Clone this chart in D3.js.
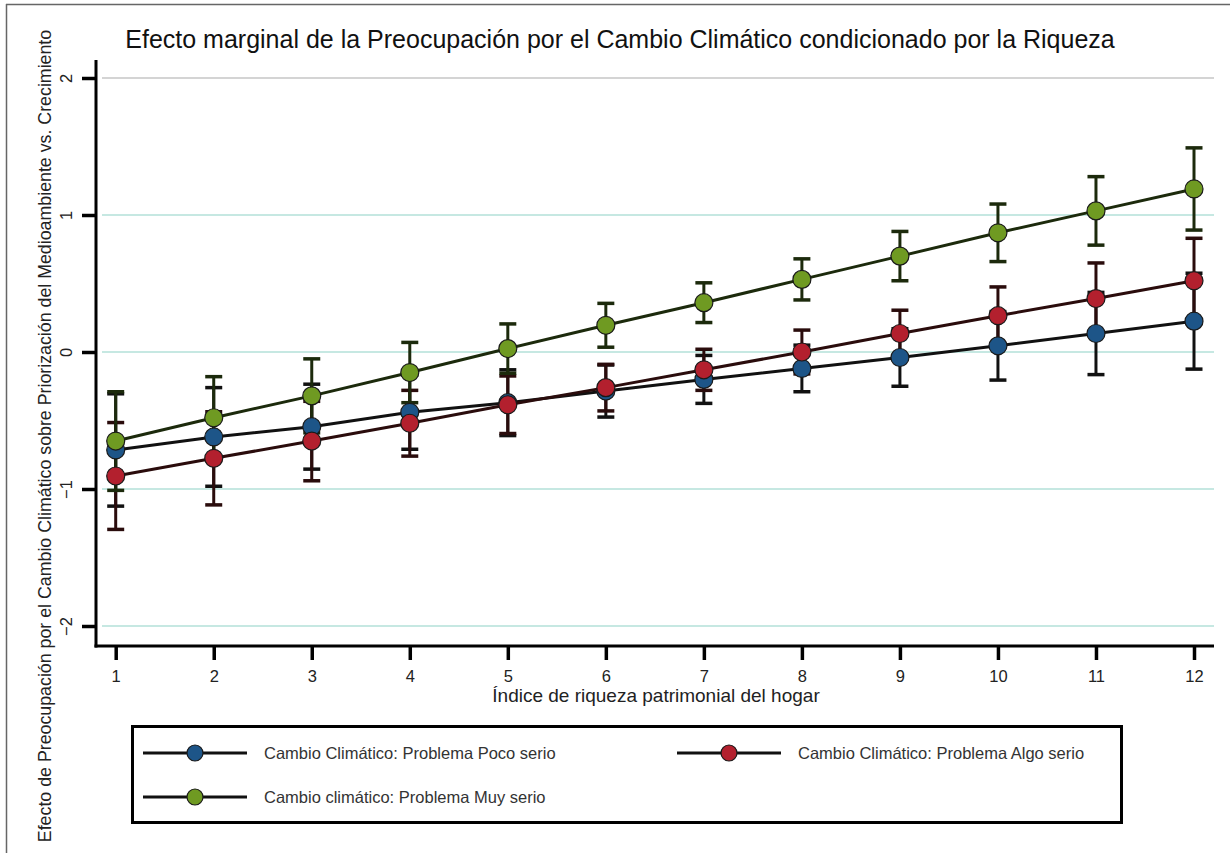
<!DOCTYPE html>
<html>
<head>
<meta charset="utf-8">
<script src="https://cdn.jsdelivr.net/npm/d3@7"></script>
<style>
  body { margin: 0; background: #fff; }
  text { font-family: "Liberation Sans", Arial, sans-serif; }
</style>
</head>
<body>
<div id="chart"></div>
<script>
var W = 1230, H = 853;

// data
var xValues = [1, 2, 3, 4, 5, 6, 7, 8, 9, 10, 11, 12];
var yTicks = [-2, -1, 0, 1, 2];
var seriesNames = [
  "Cambio Climático: Problema Poco serio",
  "Cambio Climático: Problema Algo serio",
  "Cambio climático: Problema Muy serio"
];
var pocoMargin = [-0.715, -0.62, -0.545, -0.44, -0.37, -0.285, -0.20, -0.12, -0.04, 0.045, 0.135, 0.225];
var pocoCI     = [0.41, 0.36, 0.31, 0.27, 0.24, 0.19, 0.175, 0.17, 0.21, 0.25, 0.30, 0.35];
var algoMargin = [-0.905, -0.776, -0.65, -0.52, -0.385, -0.26, -0.13, 0.0, 0.135, 0.265, 0.39, 0.52];
var algoCI     = [0.39, 0.34, 0.29, 0.24, 0.21, 0.17, 0.15, 0.16, 0.17, 0.21, 0.26, 0.31];
var muyMargin  = [-0.65, -0.48, -0.32, -0.15, 0.025, 0.195, 0.36, 0.53, 0.70, 0.87, 1.03, 1.19];
var muyCI      = [0.36, 0.30, 0.27, 0.22, 0.18, 0.16, 0.145, 0.15, 0.18, 0.21, 0.25, 0.30];

var colors = ["#1d5588", "#b3202e", "#6f9a22"];
var lineColors = ["#111", "#2a0c0c", "#1c2a0c"];

var series = [pocoMargin, algoMargin, muyMargin].map(function(vals, i) {
  var ci = [pocoCI, algoCI, muyCI][i];
  return {
    name: seriesNames[i],
    color: colors[i],
    line: lineColors[i],
    points: xValues.map(function(x, j) {
      return { x: x, y: vals[j], lo: vals[j] - ci[j], hi: vals[j] + ci[j] };
    })
  };
});

var svg = d3.select("#chart")
    .append("svg")
    .attr("width", W)
    .attr("height", H);

// outer frame (top and left edges only visible)
svg.append("line").attr("x1", 6).attr("x2", W).attr("y1", 4.5).attr("y2", 4.5)
    .attr("stroke", "#666").attr("stroke-width", 1.5);
svg.append("line").attr("x1", 6.5).attr("x2", 6.5).attr("y1", 4).attr("y2", H)
    .attr("stroke", "#666").attr("stroke-width", 1.5);

var plotLeft = 96, plotRight = 1214, plotTop = 60, plotBottom = 646;

var x = d3.scaleLinear().domain([1, 12]).range([115.7, 1194]);
var y = d3.scaleLinear().domain([-2, 2]).range([626, 78]);

// gridlines
svg.append("g").selectAll("line")
    .data(yTicks)
    .enter().append("line")
    .attr("x1", plotLeft + 6).attr("x2", plotRight)
    .attr("y1", function(d) { return y(d); })
    .attr("y2", function(d) { return y(d); })
    .attr("stroke", function(d) { return d === 2 ? "#d4d4d4" : "#c6e8e2"; })
    .attr("stroke-width", 2);

// axes
var xAxis = svg.append("g")
    .attr("transform", "translate(0," + plotBottom + ")")
    .call(d3.axisBottom(x).tickValues(xValues).tickSize(14).tickPadding(10).tickSizeOuter(0));
xAxis.select(".domain").remove();
xAxis.append("line").attr("x1", plotLeft - 1.5).attr("x2", plotRight).attr("y1", 0).attr("y2", 0)
    .attr("stroke", "#000").attr("stroke-width", 3);
xAxis.selectAll(".tick line").attr("stroke", "#000").attr("stroke-width", 3.5);
xAxis.selectAll(".tick text").attr("fill", "#222").style("font-size", "16.5px")
    .style("font-family", "'Liberation Sans', Arial, sans-serif");

var yAxis = svg.append("g")
    .attr("transform", "translate(" + plotLeft + ",0)")
    .call(d3.axisLeft(y).tickValues(yTicks).tickSize(14).tickFormat(d3.format("d")).tickSizeOuter(0));
yAxis.select(".domain").remove();
yAxis.append("line").attr("x1", 0).attr("x2", 0).attr("y1", plotTop).attr("y2", plotBottom + 1.5)
    .attr("stroke", "#000").attr("stroke-width", 3);
yAxis.selectAll(".tick line").attr("stroke", "#000").attr("stroke-width", 3.5);
yAxis.selectAll(".tick text")
    .attr("fill", "#222")
    .style("font-size", "16.5px")
    .style("font-family", "'Liberation Sans', Arial, sans-serif")
    .attr("x", null).attr("dy", null)
    .attr("text-anchor", "middle")
    .attr("transform", "translate(-24,0) rotate(-90)");

// title
svg.append("text")
    .attr("x", 620).attr("y", 48)
    .attr("text-anchor", "middle")
    .style("font-size", "25px")
    .attr("fill", "#111")
    .text("Efecto marginal de la Preocupación por el Cambio Climático condicionado por la Riqueza");

// axis titles
svg.append("text")
    .attr("x", 656).attr("y", 702)
    .attr("text-anchor", "middle")
    .style("font-size", "19px")
    .attr("fill", "#222")
    .text("Índice de riqueza patrimonial del hogar");

svg.append("text")
    .attr("transform", "translate(51,436) rotate(-90)")
    .attr("text-anchor", "middle")
    .style("font-size", "17.8px")
    .attr("fill", "#222")
    .text("Efecto de Preocupación por el Cambio Climático sobre Priorización del Medioambiente vs. Crecimiento");

// confidence intervals
var capW = 8.5;
series.forEach(function(s) {
  var g = svg.append("g");
  g.selectAll(".stem").data(s.points).enter().append("line")
      .attr("x1", function(d) { return x(d.x); }).attr("x2", function(d) { return x(d.x); })
      .attr("y1", function(d) { return y(d.lo); }).attr("y2", function(d) { return y(d.hi); })
      .attr("stroke", s.line).attr("stroke-width", 3);
  ["lo", "hi"].forEach(function(k) {
    g.selectAll(".cap" + k).data(s.points).enter().append("line")
        .attr("x1", function(d) { return x(d.x) - capW; }).attr("x2", function(d) { return x(d.x) + capW; })
        .attr("y1", function(d) { return y(d[k]); }).attr("y2", function(d) { return y(d[k]); })
        .attr("stroke", s.line).attr("stroke-width", 3.5);
  });
});

// lines and markers
var line = d3.line().x(function(d) { return x(d.x); }).y(function(d) { return y(d.y); });
series.forEach(function(s) {
  svg.append("path")
      .datum(s.points)
      .attr("d", line)
      .attr("fill", "none")
      .attr("stroke", s.line)
      .attr("stroke-width", 3);
  svg.append("g").selectAll("circle")
      .data(s.points)
      .enter().append("circle")
      .attr("cx", function(d) { return x(d.x); })
      .attr("cy", function(d) { return y(d.y); })
      .attr("r", 9)
      .attr("fill", s.color)
      .attr("stroke", "#1a1a1a")
      .attr("stroke-width", 1.2);
});

// legend
var legend = svg.append("g");
legend.append("rect")
    .attr("x", 132.5).attr("y", 726.5).attr("width", 989).attr("height", 96)
    .attr("fill", "#fff").attr("stroke", "#000").attr("stroke-width", 3);

var legendPos = [
  { lx: 143, ly: 753 },
  { lx: 677, ly: 753 },
  { lx: 143, ly: 797 }
];
series.forEach(function(s, i) {
  var p = legendPos[i];
  var item = legend.append("g").attr("transform", "translate(" + p.lx + "," + p.ly + ")");
  item.append("line").attr("x1", 0).attr("x2", 104).attr("y1", 0).attr("y2", 0)
      .attr("stroke", "#111").attr("stroke-width", 3);
  item.append("circle").attr("cx", 52).attr("cy", 0).attr("r", 8)
      .attr("fill", s.color).attr("stroke", "#1a1a1a").attr("stroke-width", 1.2);
  item.append("text").attr("x", 121).attr("y", 6)
      .style("font-size", "16.5px").attr("fill", "#333")
      .text(s.name);
});
</script>
</body>
</html>
